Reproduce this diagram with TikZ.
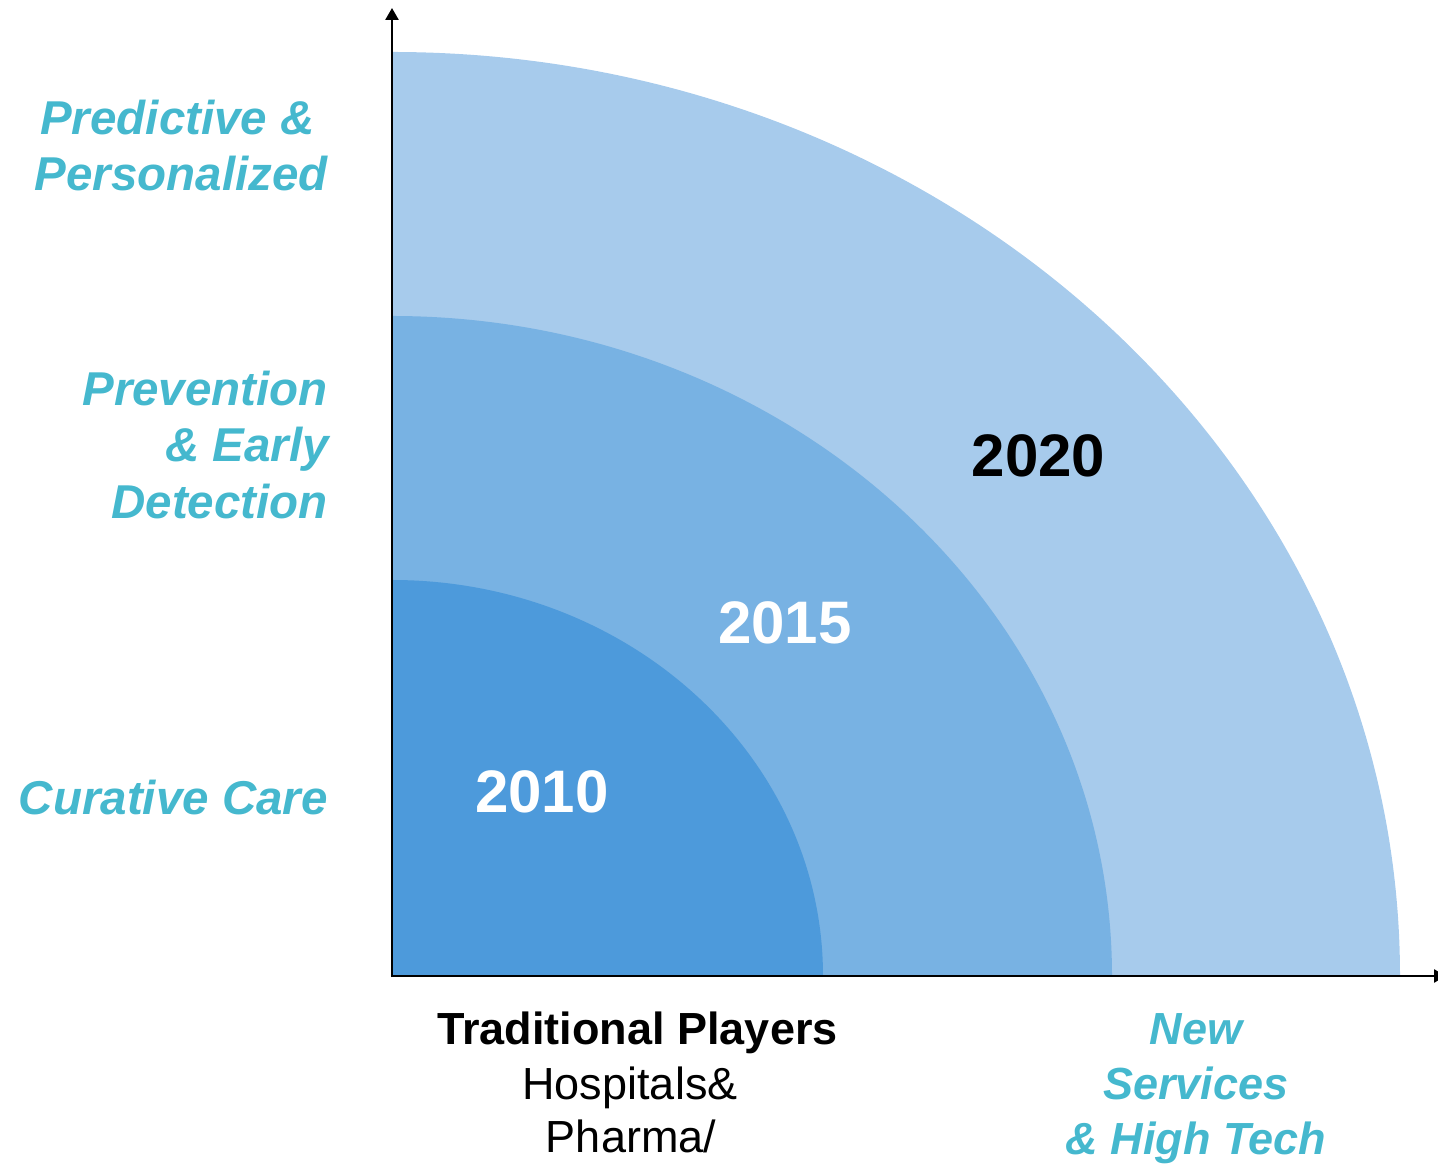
\documentclass[tikz,border=0pt]{standalone}
\usepackage{fontspec}
\setmainfont{Liberation Sans}
\usetikzlibrary{arrows.meta}
\definecolor{ringA}{HTML}{4D9ADB}
\definecolor{ringB}{HTML}{78B2E3}
\definecolor{ringC}{HTML}{A7CBEC}
\definecolor{teal}{HTML}{45B8CE}
\tikzset{
  cat/.style={font=\bfseries\itshape\fontsize{47.5}{56}\selectfont, text=teal, inner sep=0pt, anchor=base east},
  bottomlab/.style={font=\fontsize{45}{54}\selectfont, inner sep=0pt, anchor=base},
  newlab/.style={font=\bfseries\itshape\fontsize{45}{54}\selectfont, text=teal, inner sep=0pt, anchor=base},
  year/.style={font=\bfseries\fontsize{60}{70}\selectfont, inner sep=0pt, anchor=base},
  axis/.style={line width=2.5pt, draw=black}
}
\begin{document}
\begin{tikzpicture}[x=1pt,y=1pt]
\useasboundingbox (0,0) rectangle (1438,1164);
\coordinate (O) at (392,188);
% rings
\fill[ringC] (O) -- ++(1008,0) arc[start angle=0,end angle=90,x radius=1008,y radius=924] -- cycle;
\fill[ringB] (O) -- ++(720,0) arc[start angle=0,end angle=90,x radius=720,y radius=660] -- cycle;
\fill[ringA] (O) -- ++(431,0) arc[start angle=0,end angle=90,x radius=431,y radius=396] -- cycle;
% axes
\coordinate (ytop) at (392,1156);
\coordinate (xend) at (1446,188);
\draw[axis, -{Triangle[length=12pt,width=13pt]}] (392,186.75) -- (ytop);
\draw[axis, -{Triangle[length=12pt,width=13pt]}] (390.75,188) -- (xend);
% years
\node[year, text=white] (y2010) at (542,351) {2010};
\node[year, text=white] (y2015) at (785,520) {2015};
\node[year, text=black] (y2020) at (1038.5,687) {2020};
% left labels
\node[cat] (pp1) at (315,1029) {Predictive \&};
\node[cat] (pp2) at (328,973) {Personalized};
\node[cat] (pe1) at (328,758) {Prevention};
\node[cat] (pe2) at (329,702) {\& Early};
\node[cat] (pe3) at (328,645) {Detection};
\node[cat] (cc) at (328,349) {Curative Care};
% bottom labels
\node[bottomlab, font=\bfseries\fontsize{45}{54}\selectfont] (tp) at (637.5,119) {Traditional Players};
\node[bottomlab] (hp) at (630,64) {Hospitals\&};
\node[bottomlab] (ph) at (631,11) {Pharma/};
\node[newlab] (nw) at (1196,119) {New};
\node[newlab] (sv) at (1196,64) {Services};
\node[newlab] (ht) at (1196,9) {\& High Tech};
\end{tikzpicture}
\end{document}
